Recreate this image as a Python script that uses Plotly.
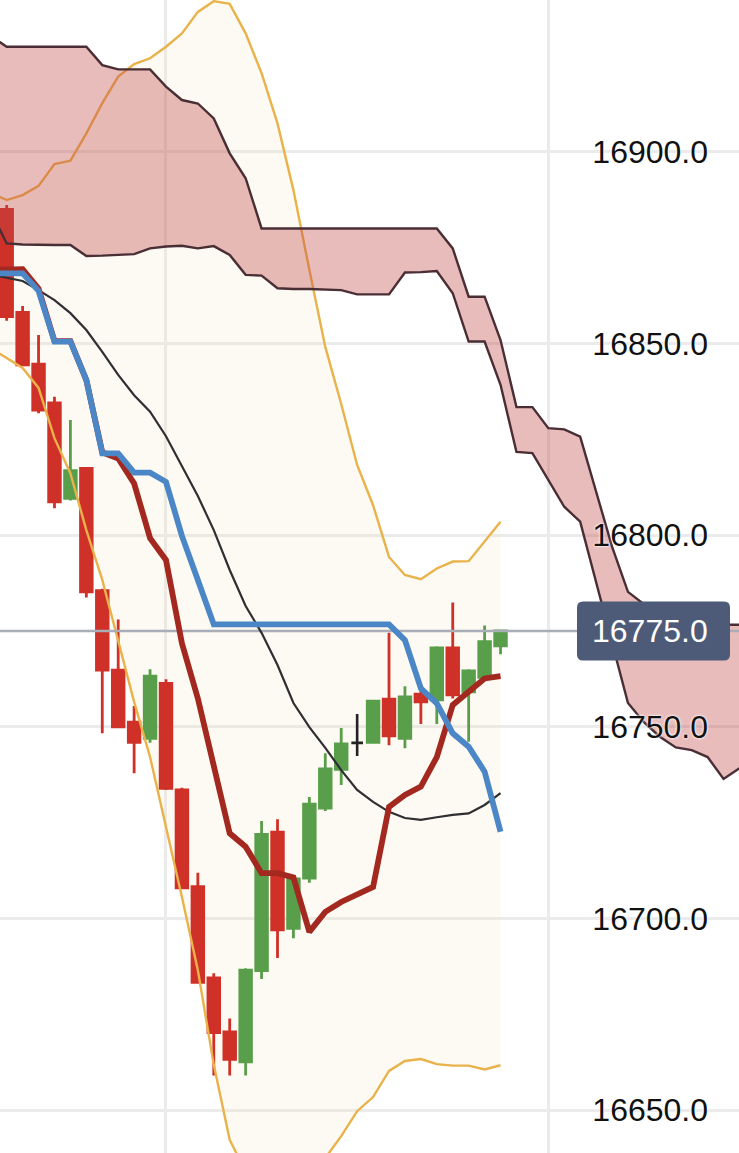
import plotly.graph_objects as go

# ---------------- data ----------------
candle_idx = list(range(32))
opens = [16885.0, 16858.1, 16844.6, 16834.5, 16809.6, 16817.4, 16785.5, 16764.8,
         16751.2, 16747.0, 16761.3, 16733.5, 16708.3, 16684.5, 16670.4, 16662.6,
         16686.4, 16722.5, 16697.4, 16710.5, 16728.8, 16738.9, 16745.8, 16745.9,
         16757.2, 16747.0, 16758.5, 16757.0, 16770.6, 16759.1, 16762.9, 16771.1]
highs = [16886.1, 16859.8, 16852.2, 16836.1, 16830.0, 16817.6, 16786.0, 16778.0,
         16755.4, 16765.0, 16762.4, 16734.1, 16711.9, 16685.7, 16673.9, 16687.0,
         16725.4, 16725.9, 16710.5, 16731.7, 16743.1, 16749.7, 16753.3, 16757.0,
         16774.5, 16760.6, 16759.6, 16771.0, 16782.4, 16765.0, 16776.4, 16775.2]
lows = [16855.9, 16844.1, 16831.8, 16807.0, 16809.0, 16783.7, 16748.3, 16749.8,
        16737.9, 16745.8, 16733.5, 16707.8, 16683.0, 16659.0, 16659.0, 16659.0,
        16684.2, 16689.7, 16694.8, 16709.3, 16728.0, 16734.8, 16742.4, 16745.6,
        16745.2, 16744.4, 16750.7, 16750.7, 16757.4, 16746.1, 16762.7, 16768.9]
closes = [16857.0, 16844.4, 16832.6, 16808.7, 16816.8, 16785.2, 16764.8, 16750.0,
          16745.9, 16763.2, 16733.9, 16708.0, 16683.3, 16670.2, 16663.2, 16686.5,
          16721.9, 16697.0, 16710.3, 16729.8, 16739.0, 16745.5, 16745.8, 16756.7,
          16747.6, 16757.8, 16756.5, 16770.6, 16758.3, 16764.6, 16772.2, 16775.0]

line_idx = list(range(-1, 32))
blue_line = [16868.3, 16868.3, 16868.3, 16863.7, 16850.5, 16850.5, 16840.5, 16821.3,
             16821.3, 16816.3, 16816.3, 16813.9, 16799.8, 16788.3, 16776.7, 16776.7,
             16776.7, 16776.7, 16776.7, 16776.7, 16776.7, 16776.7, 16776.7, 16776.7,
             16776.7, 16776.7, 16772.6, 16760.0, 16756.1, 16748.3, 16744.8, 16738.3,
             16722.6]
red_line = [16869.2, 16869.2, 16869.4, 16864.3, 16850.6, 16850.6, 16840.4, 16821.6,
            16820.0, 16813.5, 16799.2, 16793.5, 16771.8, 16757.4, 16739.8, 16722.2,
            16718.7, 16711.8, 16711.8, 16710.7, 16696.5, 16701.7, 16704.3, 16706.1,
            16708.2, 16729.1, 16732.2, 16734.4, 16742.1, 16755.7, 16759.1, 16762.6,
            16763.2]
mid_line = [16868.0, 16867.1, 16866.3, 16863.9, 16861.3, 16857.9, 16853.5, 16847.8,
            16841.8, 16836.5, 16832.2, 16825.8, 16818.0, 16810.2, 16801.3, 16790.9,
            16781.5, 16774.5, 16766.1, 16756.2, 16749.9, 16744.5, 16738.7, 16733.5,
            16730.4, 16727.8, 16726.2, 16725.7, 16726.4, 16727.0, 16727.4, 16729.6,
            16732.7]
band_upper = [16889.3, 16887.4, 16888.7, 16891.1, 16896.8, 16897.7, 16904.8, 16912.7,
              16919.6, 16922.9, 16924.4, 16927.4, 16930.9, 16936.5, 16939.3, 16938.6,
              16930.9, 16920.5, 16907.4, 16890.0, 16869.2, 16849.1, 16834.2, 16818.3,
              16807.8, 16794.3, 16789.6, 16788.5, 16791.3, 16793.1, 16793.2, 16798.3,
              16803.5]
band_lower = [16848.8, 16846.2, 16843.6, 16838.4, 16825.3, 16816.1, 16801.3, 16788.3,
              16772.6, 16756.5, 16742.1, 16724.1, 16705.6, 16686.5, 16661.8, 16642.2,
              16634.0, 16628.0, 16625.0, 16626.0, 16630.0, 16637.5, 16643.2, 16649.7,
              16653.4, 16660.2, 16662.8, 16663.3, 16662.0, 16661.6, 16661.6, 16660.6,
              16661.7]

cloud_idx = list(range(-1, 47))
cloud_top = [16930.2, 16927.4, 16927.4, 16927.4, 16927.4, 16927.4, 16927.4, 16922.6,
             16921.5, 16921.5, 16921.5, 16917.0, 16913.5, 16912.6, 16908.7, 16899.6,
             16893.1, 16880.0, 16880.0, 16880.0, 16880.0, 16880.0, 16880.0, 16880.0,
             16880.0, 16880.0, 16880.0, 16880.0, 16880.0, 16874.8, 16862.2, 16862.2,
             16850.9, 16833.4, 16833.4, 16827.9, 16827.6, 16825.7, 16811.1, 16797.0,
             16785.2, 16782.0, 16780.0, 16779.0, 16778.0, 16777.0, 16776.6, 16776.6]
cloud_bottom = [16884.4, 16876.1, 16875.8, 16875.7, 16875.7, 16875.7, 16872.8, 16872.9,
                16873.1, 16873.3, 16874.8, 16875.3, 16875.5, 16874.8, 16875.4, 16873.1,
                16867.9, 16867.7, 16864.4, 16864.2, 16864.2, 16864.1, 16863.9, 16862.8,
                16862.8, 16862.8, 16868.5, 16868.6, 16868.9, 16863.1, 16850.5, 16850.5,
                16839.2, 16821.7, 16821.4, 16814.4, 16807.4, 16803.5, 16787.6, 16772.4,
                16756.2, 16751.2, 16747.4, 16744.6, 16743.9, 16742.1, 16736.4, 16739.2]

last_price = 16775.0
y_ticks = [16650, 16700, 16750, 16800, 16850, 16900]
y_tick_text = ["16650.0", "16700.0", "16750.0", "16800.0", "16850.0", "16900.0"]

# ---------------- styling ----------------
RED = "#cf3128"
GREEN = "#599e4a"
FONT = "Arial, Liberation Sans, Helvetica, sans-serif"
Y_RANGE = [16638.8, 16939.6]

fig = go.Figure()

# Bollinger band fill (base layer, underneath everything else)
fig.add_trace(go.Scatter(x=line_idx, y=band_lower, mode="lines",
                         line=dict(width=0), hoverinfo="skip", showlegend=False))
fig.add_trace(go.Scatter(x=line_idx, y=band_upper, mode="lines", fill="tonexty",
                         fillcolor="rgba(240,228,180,0.17)",
                         line=dict(width=0), hoverinfo="skip", showlegend=False))

# candles (overlay layer)
reg = [i for i in candle_idx if opens[i] != closes[i]]
doji = [i for i in candle_idx if opens[i] == closes[i]]
fig.add_trace(go.Candlestick(
    x=reg, open=[opens[i] for i in reg], high=[highs[i] for i in reg],
    low=[lows[i] for i in reg], close=[closes[i] for i in reg],
    increasing=dict(line=dict(color=GREEN, width=2.8), fillcolor=GREEN),
    decreasing=dict(line=dict(color=RED, width=2.8), fillcolor=RED),
    whiskerwidth=0, showlegend=False, yaxis="y2"))
fig.add_trace(go.Candlestick(
    x=doji, open=[opens[i] for i in doji], high=[highs[i] for i in doji],
    low=[lows[i] for i in doji], close=[closes[i] for i in doji],
    increasing=dict(line=dict(color="#222222", width=2.6), fillcolor="#222222"),
    decreasing=dict(line=dict(color="#222222", width=2.6), fillcolor="#222222"),
    whiskerwidth=0, showlegend=False, yaxis="y2"))

# Bollinger band lines
for band in (band_upper, band_lower):
    fig.add_trace(go.Scatter(x=line_idx, y=band, mode="lines", yaxis="y2",
                             line=dict(color="#e9b24a", width=2.4),
                             hoverinfo="skip", showlegend=False))

# Ichimoku cloud
fig.add_trace(go.Scatter(x=cloud_idx, y=cloud_bottom, mode="lines", yaxis="y2",
                         line=dict(color="#4a2e35", width=2.4),
                         hoverinfo="skip", showlegend=False))
fig.add_trace(go.Scatter(x=cloud_idx, y=cloud_top, mode="lines", fill="tonexty",
                         yaxis="y2", fillcolor="rgba(196,72,72,0.37)",
                         line=dict(color="#4a2e35", width=2.4),
                         hoverinfo="skip", showlegend=False))

# last price line
fig.add_trace(go.Scatter(x=[cloud_idx[0], cloud_idx[-1]], y=[last_price, last_price],
                         mode="lines", yaxis="y2",
                         line=dict(color="#a8adb7", width=2.6),
                         hoverinfo="skip", showlegend=False))

# moving lines
fig.add_trace(go.Scatter(x=line_idx, y=mid_line, mode="lines", yaxis="y2",
                         line=dict(color="#2f2f33", width=2.2),
                         hoverinfo="skip", showlegend=False))
fig.add_trace(go.Scatter(x=line_idx, y=red_line, mode="lines", yaxis="y2",
                         line=dict(color="#a3281f", width=5.8),
                         hoverinfo="skip", showlegend=False))
fig.add_trace(go.Scatter(x=line_idx, y=blue_line, mode="lines", yaxis="y2",
                         line=dict(color="#4b86c6", width=5.8),
                         hoverinfo="skip", showlegend=False))

# price label box
w, h, r = 76.5, 29.5, 6
box = (f"M {-w + r},{-h} L {w - r},{-h} Q {w},{-h} {w},{-h + r} "
       f"L {w},{h - r} Q {w},{h} {w - r},{h} L {-w + r},{h} "
       f"Q {-w},{h} {-w},{h - r} L {-w},{-h + r} Q {-w},{-h} {-w + r},{-h} Z")
fig.add_shape(type="path", path=box, xref="paper", yref="y",
              xsizemode="pixel", ysizemode="pixel",
              xanchor=653.5 / 739, yanchor=last_price,
              fillcolor="#4d5b79", line=dict(width=0), layer="above")
fig.add_annotation(x=650 / 739, xref="paper", y=last_price, yref="y",
                   text=f"{last_price:.1f}", showarrow=False,
                   font=dict(family=FONT, size=32, color="white"),
                   xanchor="center", yanchor="middle")

fig.update_layout(
    width=739, height=1153,
    margin=dict(l=0, r=0, t=0, b=0),
    paper_bgcolor="white", plot_bgcolor="white",
    boxgap=0.27, boxgroupgap=0,
    showlegend=False,
    hovermode=False,
    xaxis=dict(range=[-0.42, 45.97], tick0=10, dtick=24, showticklabels=False,
               showgrid=True, gridcolor="#ebebeb", gridwidth=2.5,
               zeroline=False, showline=False, ticks="",
               rangeslider=dict(visible=False), fixedrange=True),
    yaxis=dict(range=Y_RANGE, side="right",
               tickmode="array", tickvals=y_ticks, ticktext=y_tick_text,
               ticklabelposition="inside", ticklabelstandoff=28,
               tickfont=dict(family=FONT, size=32, color="#111111",
                             shadow="0px 0px 3px #ffffff, 0px 0px 2px #ffffff"),
               showgrid=True, gridcolor="#ebebeb", gridwidth=2.5,
               zeroline=False, showline=False, ticks="", fixedrange=True),
    yaxis2=dict(range=Y_RANGE, overlaying="y", side="right",
                showgrid=False, showticklabels=False, zeroline=False,
                showline=False, ticks="", fixedrange=True),
)

fig.write_html("out.html", config={"displayModeBar": False},
               post_script="document.body.style.margin='0px';document.body.style.padding='0px';")
